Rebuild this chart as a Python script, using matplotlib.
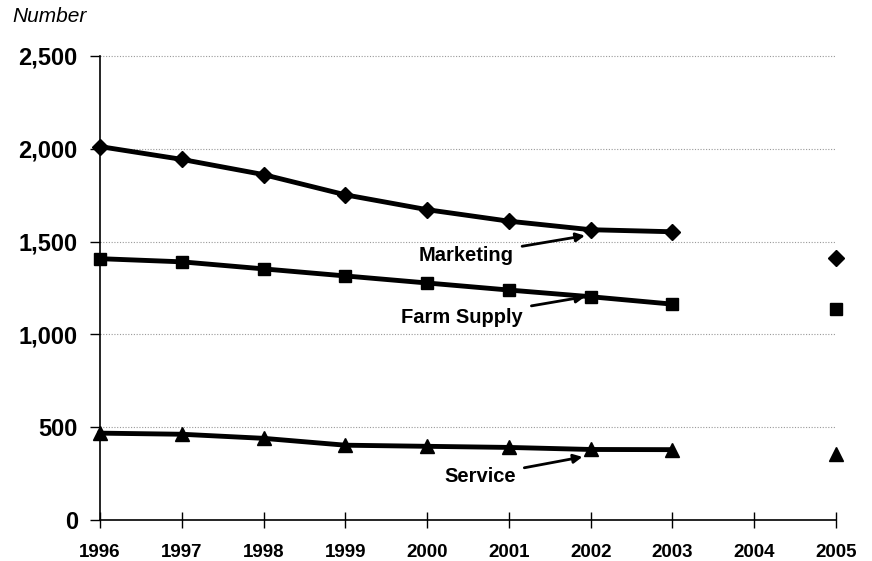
import matplotlib
matplotlib.use("Agg")
import matplotlib.pyplot as plt

years = [1996, 1997, 1998, 1999, 2000, 2001, 2002, 2003]
marketing = [2012, 1943, 1861, 1752, 1672, 1610, 1564, 1553]
farm_supply = [1408, 1391, 1353, 1315, 1277, 1239, 1203, 1163]
service = [468, 462, 440, 403, 397, 391, 380, 379]
year_2005 = 2005
marketing_2005 = 1412
farm_supply_2005 = 1136
service_2005 = 357

xticks = list(range(1996, 2006))
yticks = [0, 500, 1000, 1500, 2000, 2500]
ytick_labels = ["0", "500", "1,000", "1,500", "2,000", "2,500"]

plt.rcParams['font.family'] = ['Liberation Sans', 'DejaVu Sans']

fig = plt.figure(figsize=(8.72, 5.61), dpi=100)
ax = fig.add_axes([100/872, 1-520/561, 736/872, (520-56)/561])

lw = 3.5
ax.plot(years, marketing, color='black', lw=lw, marker='D', ms=8, zorder=3)
ax.plot(years, farm_supply, color='black', lw=lw, marker='s', ms=9, zorder=3)
ax.plot(years, service, color='black', lw=lw, marker='^', ms=10, zorder=3)
ax.plot([year_2005], [marketing_2005], ls='none', color='black', marker='D', ms=8, zorder=3)
ax.plot([year_2005], [farm_supply_2005], ls='none', color='black', marker='s', ms=9, zorder=3)
ax.plot([year_2005], [service_2005], ls='none', color='black', marker='^', ms=10, zorder=3)

ax.set_xlim(1996, 2005)
ax.set_ylim(0, 2500)
ax.set_xticks(xticks)
ax.set_xticklabels([str(y) for y in xticks])
ax.set_yticks(yticks)
ax.set_yticklabels(ytick_labels)
for lab in ax.get_xticklabels():
    lab.set_fontsize(13.5)
    lab.set_fontweight('bold')
for lab in ax.get_yticklabels():
    lab.set_fontsize(17)
    lab.set_fontweight('bold')
ax.tick_params(axis='x', direction='inout', length=12, width=1, pad=11)
ax.tick_params(axis='y', direction='out', length=7, width=1, pad=9)

for v in yticks[1:]:
    ax.axhline(v, color='#999999', lw=0.8, ls=(0, (1, 1.5)), zorder=1)

for s in ['top', 'right']:
    ax.spines[s].set_visible(False)
ax.spines['left'].set_linewidth(1.2)
ax.spines['bottom'].set_linewidth(1.2)
for line in ax.lines:
    line.set_clip_on(False)

arrow = dict(arrowstyle='-|>', color='black', lw=2, mutation_scale=13, shrinkA=4, shrinkB=0)
ax.annotate('Marketing', xy=(2001.93, 1532), xytext=(2000.48, 1424),
            ha='center', va='center', fontsize=14.5, fontweight='bold', arrowprops=arrow)
ax.annotate('Farm Supply', xy=(2001.93, 1203), xytext=(2000.43, 1090),
            ha='center', va='center', fontsize=14.5, fontweight='bold', arrowprops=arrow)
ax.annotate('Service', xy=(2001.9, 340), xytext=(2000.65, 237),
            ha='center', va='center', fontsize=14.5, fontweight='bold', arrowprops=arrow)

fig.text(12/872, 1-17/561, 'Number', fontsize=15, style='italic', ha='left', va='center')

fig.savefig('out.png', dpi=100)
